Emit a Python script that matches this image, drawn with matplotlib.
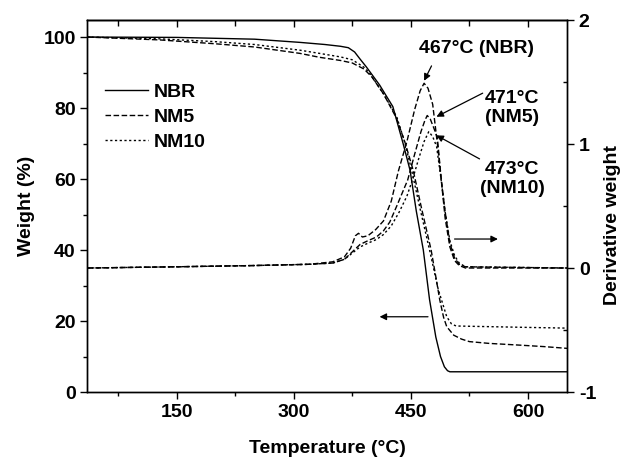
import matplotlib
matplotlib.use("Agg")
import matplotlib.pyplot as plt
from matplotlib.ticker import MultipleLocator

plt.rcParams['font.family'] = ['Liberation Sans', 'DejaVu Sans']
plt.rcParams['font.weight'] = 'bold'
plt.rcParams['axes.labelweight'] = 'bold'
plt.rcParams['font.size'] = 14
plt.rcParams['axes.unicode_minus'] = False

# TGA weight loss curves (left axis)
t_nbr = [36, 150, 250, 308, 340, 360, 370, 378, 385, 393, 410, 427, 440, 449, 457, 466, 474, 482, 488, 493, 497, 500, 650]
w_nbr = [100, 99.9, 99.4, 98.5, 97.9, 97.4, 97.0, 95.8, 93.8, 91.6, 86.5, 80.4, 70.1, 62.5, 51, 40, 26, 15.5, 10, 7.1, 6.0, 5.7, 5.7]

t_nm5 = [36, 128, 200, 250, 308, 333, 360, 375, 390, 400, 415, 432, 443, 453, 464, 476, 482, 487, 492, 496, 505, 515, 525, 550, 590, 620, 650]
w_nm5 = [100, 99.2, 98.1, 97.2, 95.4, 94.3, 93.4, 92.7, 91.0, 88.8, 84, 77, 70, 62.5, 51.5, 40, 32.5, 26, 21, 18.4, 16.0, 14.9, 14.2, 13.7, 13.2, 12.8, 12.3]

t_nm10 = [36, 128, 200, 250, 308, 333, 360, 375, 390, 397, 415, 432, 442, 451, 462, 474, 485, 496, 502, 508, 530, 600, 650]
w_nm10 = [100, 99.5, 98.7, 97.9, 96.3, 95.4, 94.4, 93.6, 91.5, 89.9, 84, 77.5, 70.5, 62.5, 51.5, 40, 29, 21.2, 19.2, 18.6, 18.5, 18.2, 18.0]

# DTG curves (right axis)
dt_nbr = [36, 150, 250, 320, 350, 365, 373, 379, 383, 388, 395, 405, 415, 425, 434, 445, 455, 462, 467, 472, 478, 485, 489, 494, 500, 506, 512, 520, 650]
d_nbr = [0.0, 0.01, 0.02, 0.03, 0.05, 0.09, 0.16, 0.26, 0.28, 0.25, 0.26, 0.31, 0.38, 0.54, 0.78, 1.02, 1.28, 1.43, 1.49, 1.45, 1.32, 0.95, 0.71, 0.40, 0.17, 0.06, 0.02, 0.0, 0.0]

dt_nm5 = [36, 150, 250, 320, 350, 365, 375, 385, 395, 406, 415, 423, 432, 440, 446, 455, 463, 468, 471, 475, 480, 484, 489, 494, 500, 506, 512, 520, 650]
d_nm5 = [0.0, 0.01, 0.02, 0.03, 0.04, 0.07, 0.13, 0.19, 0.22, 0.25, 0.30, 0.37, 0.50, 0.62, 0.71, 0.92, 1.10, 1.19, 1.23, 1.20, 1.12, 1.05, 0.71, 0.45, 0.20, 0.08, 0.03, 0.01, 0.0]

dt_nm10 = [36, 150, 250, 320, 350, 365, 375, 385, 395, 406, 415, 425, 435, 445, 452, 460, 467, 473, 478, 483, 488, 494, 500, 506, 512, 520, 650]
d_nm10 = [0.0, 0.01, 0.02, 0.03, 0.04, 0.07, 0.12, 0.17, 0.20, 0.23, 0.27, 0.34, 0.45, 0.58, 0.71, 0.88, 1.02, 1.10, 1.06, 0.98, 0.75, 0.45, 0.22, 0.10, 0.04, 0.01, 0.0]

dash_long = (0, (4, 1.8))
dash_short = (0, (1.6, 1.8))

fig = plt.figure(figsize=(6.28, 4.57), dpi=100)
ax = fig.add_axes([0.1393, 0.1422, 0.7636, 0.814])
ax2 = ax.twinx()

ax.plot(t_nbr, w_nbr, color='k', lw=1.0, label='NBR')
ax.plot(t_nm5, w_nm5, color='k', lw=1.0, linestyle=dash_long, label='NM5')
ax.plot(t_nm10, w_nm10, color='k', lw=1.0, linestyle=dash_short, label='NM10')

ax2.plot(dt_nbr, d_nbr, color='k', lw=1.0, linestyle=dash_long)
ax2.plot(dt_nm5, d_nm5, color='k', lw=1.0, linestyle=dash_long)
ax2.plot(dt_nm10, d_nm10, color='k', lw=1.0, linestyle=dash_short)

ax.set_xlim(36, 650)
ax.set_ylim(0, 104.8)
ax2.set_ylim(-1, 2)

ax.xaxis.set_major_locator(MultipleLocator(150))
ax.xaxis.set_minor_locator(MultipleLocator(75))
ax.yaxis.set_major_locator(MultipleLocator(20))
ax.yaxis.set_minor_locator(MultipleLocator(10))
ax2.yaxis.set_major_locator(MultipleLocator(1))
ax2.yaxis.set_minor_locator(MultipleLocator(0.5))

for a in (ax, ax2):
    for s in a.spines.values():
        s.set_linewidth(1.0)
ax.tick_params(which='major', direction='out', length=5, width=1.0, top=False)
ax.tick_params(which='minor', direction='out', length=3, width=1.0, top=False)
ax2.tick_params(which='major', direction='out', length=5, width=1.0)
ax2.tick_params(which='minor', direction='in', length=3, width=1.0)

# top axis: inward ticks only
sec = ax.secondary_xaxis('top')
sec.xaxis.set_major_locator(MultipleLocator(150))
sec.xaxis.set_minor_locator(MultipleLocator(75))
sec.tick_params(which='major', direction='in', length=5, width=1.0, labeltop=False)
sec.tick_params(which='minor', direction='in', length=4, width=1.0)
sec.spines['top'].set_linewidth(1.0)

ax.set_xlabel('Temperature (°C)', labelpad=14)
ax.set_ylabel('Weight (%)', labelpad=6)
fig.text(0.976, 0.508, 'Derivative weight', rotation=90, ha='center', va='center',
         fontsize=14, fontweight='bold')

ax.legend(loc='upper left', bbox_to_anchor=(0.036, 0.83), frameon=False,
          handlelength=2.2, handletextpad=0.3, labelspacing=0.38,
          borderpad=0, borderaxespad=0)

# peak temperature labels
ax2.text(534, 1.77, '467°C (NBR)', ha='center', va='center')
ax2.text(580, 1.29, '471°C\n(NM5)', ha='center', va='center', linespacing=1.15)
ax2.text(580, 0.72, '473°C\n(NM10)', ha='center', va='center', linespacing=1.15)

arrow = dict(arrowstyle='-|>', color='k', lw=0.9, mutation_scale=10, shrinkA=0, shrinkB=0)
ax2.annotate('', xy=(467, 1.51), xytext=(476.5, 1.63), arrowprops=arrow)
ax2.annotate('', xy=(482.8, 1.22), xytext=(542, 1.41), arrowprops=arrow)
ax2.annotate('', xy=(482.8, 1.07), xytext=(538, 0.88), arrowprops=arrow)

# which curves belong to which axis
ax.annotate('', xy=(410, 21.2), xytext=(472, 21.2), arrowprops=arrow)
ax.annotate('', xy=(561.5, 43.1), xytext=(506, 43.1), arrowprops=arrow)

fig.savefig('out.png', dpi=100)
